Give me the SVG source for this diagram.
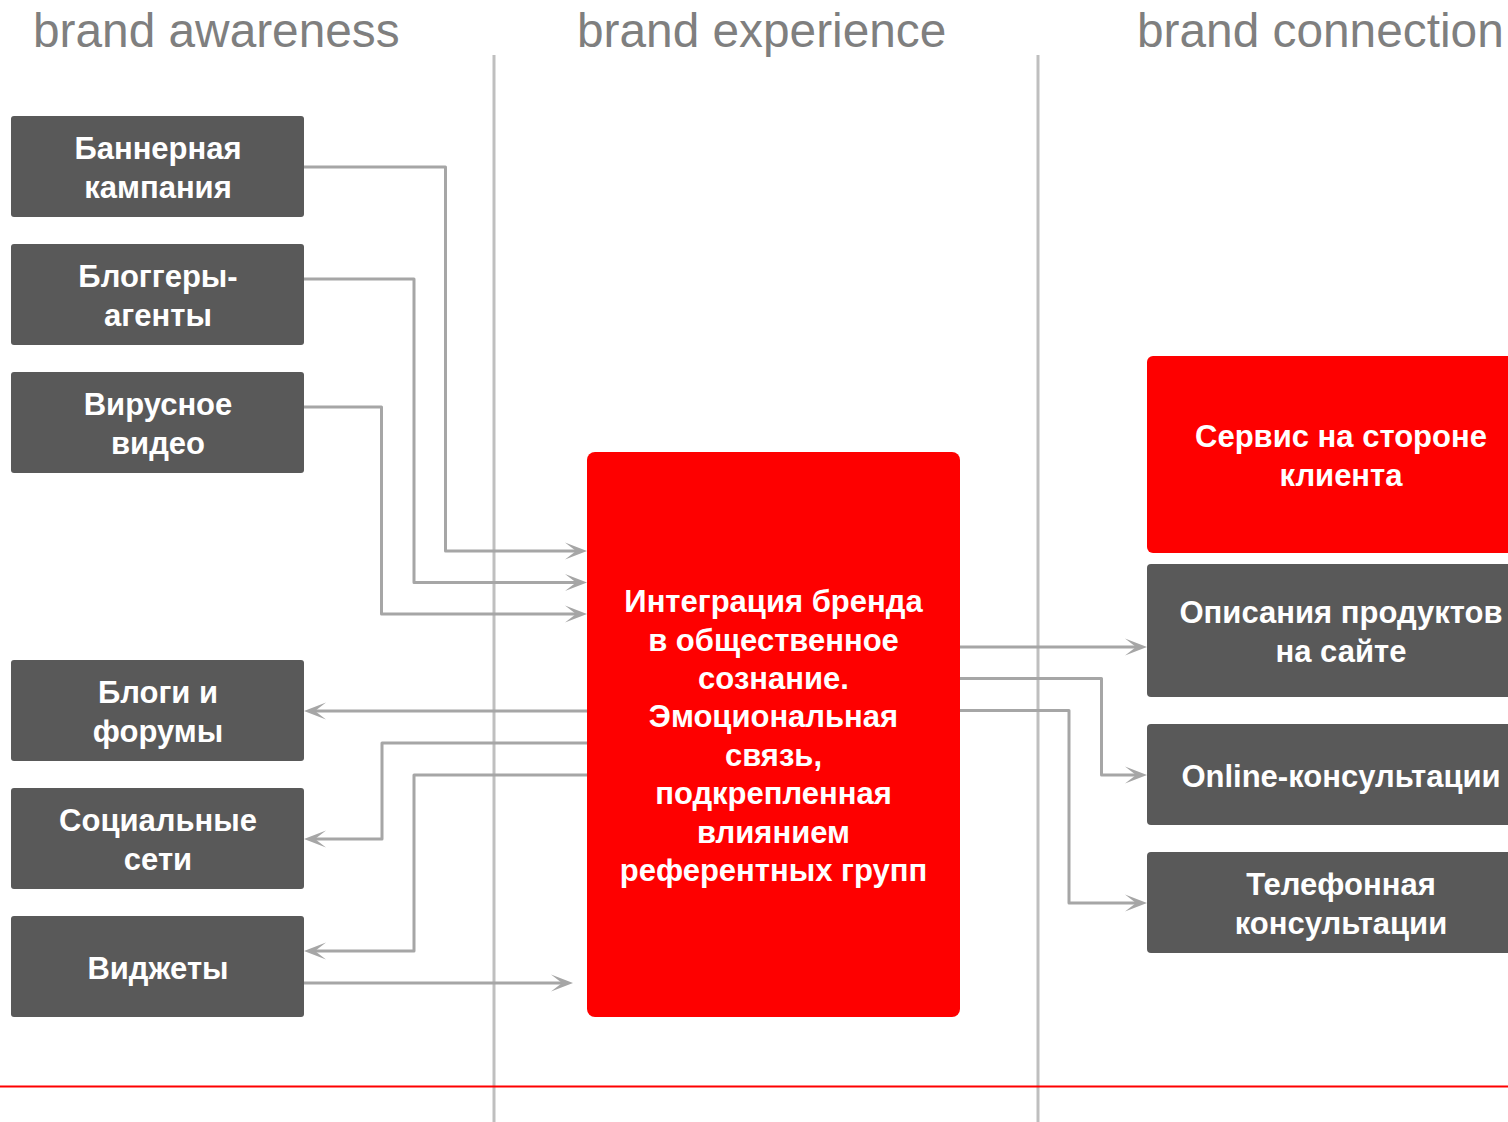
<svg xmlns="http://www.w3.org/2000/svg" width="1508" height="1122" viewBox="0 0 1508 1122">
<style>
.title{font-family:"Liberation Sans",Arial,sans-serif;font-size:47.8px;fill:#7f7f7f}
.gbox{fill:#595959}
.rbox{fill:#fe0000}
.lbl{font-family:"Liberation Sans",Arial,sans-serif;font-size:31px;font-weight:bold;fill:#ffffff;text-anchor:middle}
.sep{stroke:#bfbfbf;stroke-width:3;fill:none}
.con{stroke:#a6a6a6;stroke-width:3;fill:none;stroke-linejoin:round;marker-end:url(#ah)}
</style>
<defs>
<marker id="ah" viewBox="-23 -10 24 20" refX="-8" refY="0" markerWidth="24" markerHeight="20" markerUnits="userSpaceOnUse" orient="auto">
<path d="M0,0 L-22,-8.5 L-11,0 L-22,8.5 Z" fill="#a6a6a6"/>
</marker>
</defs>
<rect width="1508" height="1122" fill="#ffffff"/>
<g id="titles">
<text class="title" x="33" y="47">brand awareness</text>
<text class="title" x="577" y="47">brand experience</text>
<text class="title" x="1137" y="47">brand connection</text>
</g>
<g id="separators">
<line class="sep" x1="494" y1="55" x2="494" y2="1122"/>
<line class="sep" x1="1038" y1="55" x2="1038" y2="1122"/>
<line x1="0" y1="1086.5" x2="1508" y2="1086.5" stroke="#fe0000" stroke-width="2"/>
</g>
<g id="connectors">
<path class="con" d="M304,167 H445.5 V551 H579"/>
<path class="con" d="M304,279 H414 V582.5 H579"/>
<path class="con" d="M304,407 H381.5 V614 H579"/>
<path class="con" d="M587,711 H312"/>
<path class="con" d="M587,743 H382 V839 H312"/>
<path class="con" d="M587,775 H414 V951 H312"/>
<path class="con" d="M304,983 H565"/>
<path class="con" d="M960,647 H1139"/>
<path class="con" d="M960,678.5 H1101.5 V775 H1139"/>
<path class="con" d="M960,710.5 H1069 V903 H1139"/>
</g>
<g id="n-banner"><rect class="gbox" x="11" y="116" width="293" height="101" rx="3"/><text class="lbl" x="158" y="159">Баннерная</text><text class="lbl" x="158" y="198">кампания</text></g>
<g id="n-bloggers"><rect class="gbox" x="11" y="244" width="293" height="101" rx="3"/><text class="lbl" x="158" y="287">Блоггеры-</text><text class="lbl" x="158" y="326">агенты</text></g>
<g id="n-viral"><rect class="gbox" x="11" y="372" width="293" height="101" rx="3"/><text class="lbl" x="158" y="415">Вирусное</text><text class="lbl" x="158" y="454">видео</text></g>
<g id="n-blogs"><rect class="gbox" x="11" y="660" width="293" height="101" rx="3"/><text class="lbl" x="158" y="703">Блоги и</text><text class="lbl" x="158" y="742">форумы</text></g>
<g id="n-social"><rect class="gbox" x="11" y="788" width="293" height="101" rx="3"/><text class="lbl" x="158" y="831">Социальные</text><text class="lbl" x="158" y="870">сети</text></g>
<g id="n-widgets"><rect class="gbox" x="11" y="916" width="293" height="101" rx="3"/><text class="lbl" x="158" y="979">Виджеты</text></g>
<g id="n-center"><rect class="rbox" x="587" y="452" width="373" height="565" rx="8"/>
<text class="lbl" x="773.5" y="612">Интеграция бренда</text>
<text class="lbl" x="773.5" y="651">в общественное</text>
<text class="lbl" x="773.5" y="689">сознание.</text>
<text class="lbl" x="773.5" y="727">Эмоциональная</text>
<text class="lbl" x="773.5" y="766">связь,</text>
<text class="lbl" x="773.5" y="804">подкрепленная</text>
<text class="lbl" x="773.5" y="843">влиянием</text>
<text class="lbl" x="773.5" y="881">референтных групп</text>
</g>
<g id="n-service"><rect class="rbox" x="1147" y="356" width="400" height="197" rx="6"/><text class="lbl" x="1341" y="447">Сервис на стороне</text><text class="lbl" x="1341" y="486">клиента</text></g>
<g id="n-descr"><rect class="gbox" x="1147" y="564" width="400" height="133" rx="4"/><text class="lbl" x="1341" y="623">Описания продуктов</text><text class="lbl" x="1341" y="662">на сайте</text></g>
<g id="n-online"><rect class="gbox" x="1147" y="724" width="400" height="101" rx="4"/><text class="lbl" x="1341" y="787">Online-консультации</text></g>
<g id="n-phone"><rect class="gbox" x="1147" y="852" width="400" height="101" rx="4"/><text class="lbl" x="1341" y="895">Телефонная</text><text class="lbl" x="1341" y="934">консультации</text></g>
</svg>
